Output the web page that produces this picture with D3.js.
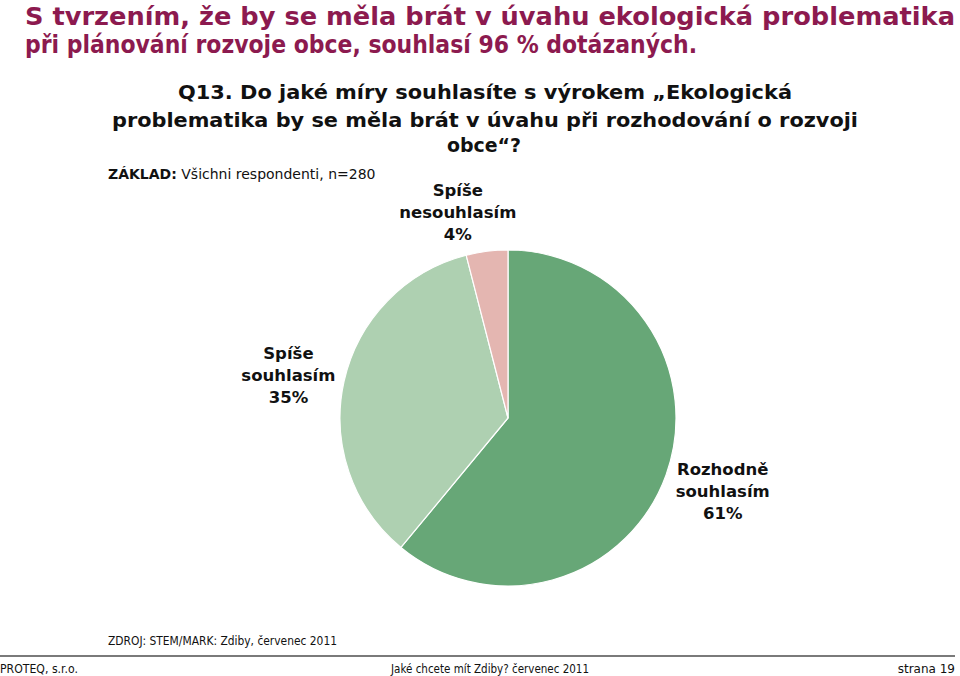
<!DOCTYPE html>
<html>
<head>
<meta charset="utf-8">
<script src="https://cdn.jsdelivr.net/npm/d3@7/dist/d3.min.js"></script>
<style>
html,body{margin:0;padding:0;background:#fff;}
svg{display:block;}
</style>
</head>
<body>
<svg id="chart" width="960" height="676"></svg>
<script>
// ---- data ----
const categories = ["Rozhodně souhlasím", "Spíše souhlasím", "Spíše nesouhlasím"];
const labelLines = [["Rozhodně", "souhlasím"], ["Spíše", "souhlasím"], ["Spíše", "nesouhlasím"]];
const values = [61, 35, 4];
const colors = ["#67a777", "#aed0b1", "#e4b6b1"];
const titleLines = ["S tvrzením, že by se měla brát v úvahu ekologická problematika",
                    "při plánování rozvoje obce, souhlasí 96 % dotázaných."];
const questionLines = ["Q13. Do jaké míry souhlasíte s výrokem „Ekologická",
                       "problematika by se měla brát v úvahu při rozhodování o rozvoji",
                       "obce“?"];
const baseLabel = "ZÁKLAD:";
const baseText = " Všichni respondenti, n=280";
const sourceText = "ZDROJ: STEM/MARK: Zdiby, červenec 2011";
const footerLeft = "PROTEQ, s.r.o.";
const footerMid = "Jaké chcete mít Zdiby? červenec 2011";
const footerRight = "strana 19";

// ---- layout ----
const svg = d3.select("#chart");
const cx = 508, cy = 418, R = 168;
const labelR = 225;
const labelNudge = [[3, 3], [0, 12], [-22, 23]];

// title
const titleFont = "Verdana, 'DejaVu Sans', sans-serif";
const tW = [930, 672];
const tY = [25, 53];
titleLines.forEach((t, i) => {
  svg.append("text").attr("x", 25).attr("y", tY[i])
    .attr("font-family", titleFont).attr("font-weight", "bold")
    .attr("font-size", 24.5).attr("fill", "#8c1a4f")
    .attr("textLength", tW[i]).attr("lengthAdjust", "spacingAndGlyphs")
    .text(t);
});

// question
const qX = [178, 112, 447], qW = [614, 746, 74], qY = [99, 127, 152];
questionLines.forEach((t, i) => {
  svg.append("text").attr("x", qX[i]).attr("y", qY[i])
    .attr("font-family", titleFont).attr("font-weight", "bold")
    .attr("font-size", 20).attr("fill", "#111")
    .attr("textLength", qW[i]).attr("lengthAdjust", "spacingAndGlyphs")
    .text(t);
});

// base
const base = svg.append("text").attr("x", 108).attr("y", 179)
  .attr("font-family", titleFont).attr("font-size", 14).attr("fill", "#111");
base.append("tspan").attr("font-weight", "bold").text(baseLabel);
base.append("tspan").text(baseText);

// pie
const pie = d3.pie().sort(null).value(d => d)(values);
const arc = d3.arc().innerRadius(0).outerRadius(R);
const labelArc = d3.arc().innerRadius(labelR).outerRadius(labelR);
const g = svg.append("g").attr("transform", `translate(${cx},${cy})`);
g.selectAll("path").data(pie).join("path")
  .attr("d", arc).attr("fill", (d, i) => colors[i])
  .attr("stroke", "#fff").attr("stroke-width", 1.2);

pie.forEach((d, i) => {
  const c = labelArc.centroid(d);
  const x = c[0] + labelNudge[i][0], y = c[1] + labelNudge[i][1];
  const lines = labelLines[i].concat([values[i] + "%"]);
  const t = g.append("text").attr("text-anchor", "middle")
    .attr("font-family", titleFont).attr("font-weight", "bold")
    .attr("font-size", 16.5).attr("fill", "#111");
  lines.forEach((l, j) => {
    t.append("tspan").attr("x", x).attr("y", y + (j - 1) * 22).text(l);
  });
});

// source
svg.append("text").attr("x", 108).attr("y", 645)
  .attr("font-family", titleFont).attr("font-size", 12).attr("fill", "#111")
  .attr("textLength", 229).attr("lengthAdjust", "spacingAndGlyphs")
  .text(sourceText);

// footer line
svg.append("line").attr("x1", 0).attr("x2", 955).attr("y1", 656).attr("y2", 656)
  .attr("stroke", "#7a7a7a").attr("stroke-width", 2);

svg.append("text").attr("x", 0).attr("y", 673)
  .attr("font-family", titleFont).attr("font-size", 12).attr("fill", "#111")
  .attr("textLength", 78).attr("lengthAdjust", "spacingAndGlyphs").text(footerLeft);
svg.append("text").attr("x", 391).attr("y", 673)
  .attr("font-family", titleFont).attr("font-size", 12).attr("fill", "#111")
  .attr("textLength", 198).attr("lengthAdjust", "spacingAndGlyphs").text(footerMid);
svg.append("text").attr("x", 955).attr("y", 673).attr("text-anchor", "end")
  .attr("font-family", titleFont).attr("font-size", 12).attr("fill", "#111")
  .text(footerRight);
</script>
</body>
</html>
